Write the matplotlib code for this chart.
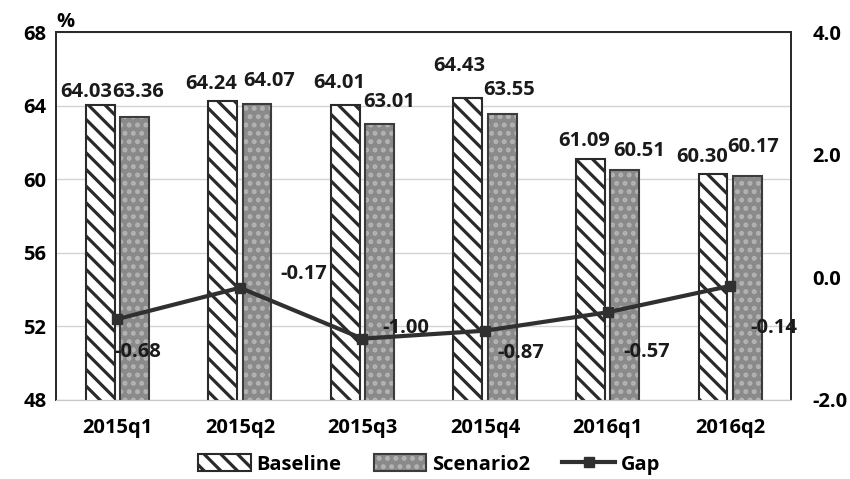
import numpy as np
import matplotlib
matplotlib.use('Agg')
import matplotlib.pyplot as plt
from matplotlib.patches import Patch
from matplotlib.lines import Line2D
from matplotlib.legend_handler import HandlerTuple

quarters = ['2015q1', '2015q2', '2015q3', '2015q4', '2016q1', '2016q2']
baseline = [64.03, 64.24, 64.01, 64.43, 61.09, 60.30]
scenario2 = [63.36, 64.07, 63.01, 63.55, 60.51, 60.17]
gap = [-0.68, -0.17, -1.00, -0.87, -0.57, -0.14]

# label nudges in pixels (dx, dy) so overlapping labels stay readable
base_off = [(-14, 13), (-12, 17), (-6, 22), (-9, 32), (-6, 18), (-11, 17)]
scen_off = [(4, 25), (12, 23), (10, 22), (7, 24), (14, 19), (6, 29)]
gap_off = [(20, -33), (64, 14), (43, 11), (36, -22), (39, -40), (44, -42)]

plt.rcParams['font.family'] = ['Open Sans', 'DejaVu Sans']
plt.rcParams['font.weight'] = 'bold'
plt.rcParams['hatch.linewidth'] = 2.3
FS = 14.5

DARK = '#2a2a2a'
GREY = '#8a8a8a'
DOTS = '#b4b4b4'

fig = plt.figure(figsize=(8.5, 4.79), dpi=100)
ax = fig.add_axes([0.066, 0.165, 0.865, 0.768])
ax2 = ax.twinx()

x = np.arange(len(quarters))
w = 0.235
off = 0.14

ax.bar(x - off, baseline, w, color='white', edgecolor=DARK,
       hatch='\\\\', linewidth=1.5, zorder=3)
ax.bar(x + off, scenario2, w, color=GREY, edgecolor=DOTS,
       hatch='..', linewidth=0, zorder=3)
ax.bar(x + off, scenario2, w, color='none', edgecolor='#3c3c3c',
       linewidth=1.5, zorder=4)

for xi, v, (dx, dy) in zip(x - off, baseline, base_off):
    ax.annotate('{:.2f}'.format(v), (xi, v), xytext=(dx, dy),
                textcoords='offset pixels', ha='center', va='center',
                fontsize=FS, fontweight='bold', color='#1a1a1a', zorder=6)
for xi, v, (dx, dy) in zip(x + off, scenario2, scen_off):
    ax.annotate('{:.2f}'.format(v), (xi, v), xytext=(dx, dy),
                textcoords='offset pixels', ha='center', va='center',
                fontsize=FS, fontweight='bold', color='#1a1a1a', zorder=6)

ax.set_ylim(48, 68)
ax.set_yticks(np.arange(48, 69, 4))
ax.set_xlim(-0.5, len(quarters) - 0.5)
ax.set_xticks(x)
ax.set_xticklabels(quarters)
ax.grid(axis='y', color='#d4d4d4', linewidth=1.0, zorder=0)
ax.set_axisbelow(True)
ax.tick_params(axis='both', length=0, labelsize=FS)
ax.tick_params(axis='y', pad=7)
ax.tick_params(axis='x', pad=13)

ax2.plot(x, gap, color='#303030', linewidth=3, marker='s', markersize=7,
         zorder=5)
for xi, v, (dx, dy) in zip(x, gap, gap_off):
    ax2.annotate('{:.2f}'.format(v), (xi, v), xytext=(dx, dy),
                 textcoords='offset pixels', ha='center', va='center',
                 fontsize=FS, fontweight='bold', color='#1a1a1a')
ax2.set_ylim(-2, 4)
ax2.set_yticks([-2, 0, 2, 4])
ax2.set_yticklabels(['{:.1f}'.format(t) for t in [-2, 0, 2, 4]])
ax2.tick_params(axis='y', length=0, labelsize=FS, pad=15)

for a in (ax, ax2):
    for side in ('left', 'top', 'right'):
        a.spines[side].set_color(DARK)
        a.spines[side].set_linewidth(1.3)
    a.spines['bottom'].set_color('#c8c8c8')

ax.text(0.0, 1.0, '%', transform=ax.transAxes, ha='left', va='bottom',
        fontsize=FS, fontweight='bold')

h_base = Patch(facecolor='white', edgecolor=DARK, hatch='\\\\', linewidth=1.5)
h_scen_fill = Patch(facecolor=GREY, edgecolor=DOTS, hatch='..', linewidth=0)
h_scen_edge = Patch(facecolor='none', edgecolor='#3c3c3c', linewidth=1.5)
h_gap = Line2D([], [], color='#303030', linewidth=3, marker='s', markersize=7)
fig.legend([h_base, (h_scen_fill, h_scen_edge), h_gap],
           ['Baseline', 'Scenario2', 'Gap'],
           handler_map={tuple: HandlerTuple(ndivide=1, pad=0)},
           loc='center', bbox_to_anchor=(0.505, 0.03), ncol=3, frameon=False,
           fontsize=FS, handlelength=2.6, handleheight=0.9,
           columnspacing=1.6, handletextpad=0.3)

fig.savefig('out.png', dpi=100)
